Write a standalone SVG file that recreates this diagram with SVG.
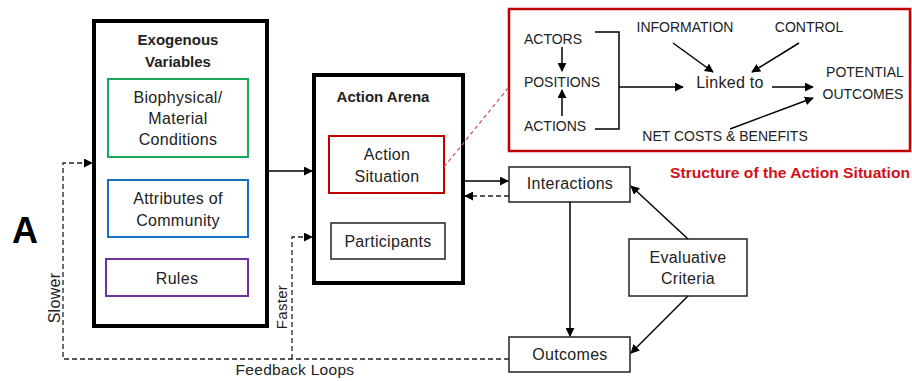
<svg xmlns="http://www.w3.org/2000/svg" width="912" height="381" viewBox="0 0 912 381">
<defs>
<marker id="ah" viewBox="0 0 10 10" refX="9" refY="5" markerWidth="9" markerHeight="9" markerUnits="userSpaceOnUse" orient="auto">
<path d="M0,0 L10,5 L0,10 z" fill="#000"/>
</marker>
</defs>
<style>
text{font-family:"Liberation Sans",Arial,sans-serif;font-size:16px;letter-spacing:0.3px;fill:#222;text-anchor:middle;dominant-baseline:central}
.b{font-weight:bold;font-size:15px;letter-spacing:0}
.big{stroke:#000;stroke-width:4;fill:#fff}
.box{stroke:#222;stroke-width:1.5;fill:#fff}
.ln{stroke:#000;stroke-width:1.5;fill:none}
.ds{stroke:#222;stroke-width:1.3;fill:none;stroke-dasharray:5,3}
.cap{font-size:14px;letter-spacing:0}
</style>
<rect width="912" height="381" fill="#fff"/>
<text x="25" y="230" style="font-size:36px;font-weight:bold;fill:#000;letter-spacing:0">A</text>

<g id="exogenous">
<rect class="big" x="94" y="21" width="173" height="305"/>
<text class="b" x="178" y="39">Exogenous</text>
<text class="b" x="178" y="61">Variables</text>
</g>
<g id="biophysical">
<rect x="108" y="79" width="140" height="78" fill="#fff" stroke="#1aa85a" stroke-width="2"/>
<text x="178" y="97">Biophysical/</text>
<text x="178" y="118">Material</text>
<text x="178" y="139">Conditions</text>
</g>
<g id="attributes">
<rect x="108" y="180" width="140" height="57" fill="#fff" stroke="#1a70c0" stroke-width="2"/>
<text x="178" y="198">Attributes of</text>
<text x="178" y="220">Community</text>
</g>
<g id="rules">
<rect x="106" y="259" width="142" height="37" fill="#fff" stroke="#7030a0" stroke-width="2"/>
<text x="177" y="278">Rules</text>
</g>

<g id="action-arena">
<rect class="big" x="314" y="75" width="149" height="208"/>
<text class="b" x="383" y="96">Action Arena</text>
</g>
<g id="action-situation">
<rect x="329" y="136" width="115" height="57" fill="#fff" stroke="#c00000" stroke-width="2"/>
<text x="387" y="154">Action</text>
<text x="387" y="176">Situation</text>
</g>
<g id="participants">
<rect class="box" x="331" y="223" width="114" height="36"/>
<text x="388" y="241">Participants</text>
</g>

<g id="interactions">
<rect class="box" x="509" y="167" width="121" height="35"/>
<text x="570" y="183">Interactions</text>
</g>
<g id="outcomes">
<rect class="box" x="509" y="337" width="121" height="35"/>
<text x="570" y="354">Outcomes</text>
</g>
<g id="evaluative">
<rect class="box" x="629" y="239" width="118" height="57"/>
<text x="688" y="257">Evaluative</text>
<text x="688" y="278">Criteria</text>
</g>

<g id="structure">
<rect x="509" y="9" width="401" height="142" fill="#fff" stroke="#c00000" stroke-width="2.5"/>
<text class="cap" x="553" y="39">ACTORS</text>
<text class="cap" x="562" y="82">POSITIONS</text>
<text class="cap" x="555" y="126">ACTIONS</text>
<text class="cap" x="685" y="27">INFORMATION</text>
<text class="cap" x="809" y="27">CONTROL</text>
<text x="730" y="82">Linked to</text>
<text class="cap" x="865" y="72">POTENTIAL</text>
<text class="cap" x="863" y="94">OUTCOMES</text>
<text class="cap" x="725" y="136">NET COSTS &amp; BENEFITS</text>
<path class="ln" d="M562,47 V71" marker-end="url(#ah)"/>
<path class="ln" d="M562,116 V90" marker-end="url(#ah)"/>
<path class="ln" d="M595,32 H619 V129 H595"/>
<path class="ln" d="M619,87 H683" marker-end="url(#ah)"/>
<path class="ln" d="M673,43 L713,72" marker-end="url(#ah)"/>
<path class="ln" d="M799,43 L752,72" marker-end="url(#ah)"/>
<path class="ln" d="M772,87 H813" marker-end="url(#ah)"/>
<path class="ln" d="M730,129 L813,98" marker-end="url(#ah)"/>
</g>
<text class="b" x="790" y="172" textLength="240" lengthAdjust="spacingAndGlyphs" style="fill:#d0101a">Structure of the Action Situation</text>

<g id="connectors">
<path d="M444,167 L509,87" fill="none" stroke="#d05060" stroke-width="1.2" stroke-dasharray="4,3"/>
<path class="ln" d="M267,171 H312" marker-end="url(#ah)"/>
<path class="ln" d="M463,181 H508" marker-end="url(#ah)"/>
<path class="ds" d="M509,196 H465" marker-end="url(#ah)"/>
<path class="ln" d="M570,202 V336" marker-end="url(#ah)"/>
<path class="ln" d="M688,239 L631,186" marker-end="url(#ah)"/>
<path class="ln" d="M688,296 L631,353" marker-end="url(#ah)"/>
<path class="ds" d="M509,359 H63 V163 H92" marker-end="url(#ah)"/>
<path class="ds" d="M292,359 V237 H312" marker-end="url(#ah)"/>
</g>
<text x="54" y="298" transform="rotate(-90 54 298)">Slower</text>
<text x="281" y="307" transform="rotate(-90 281 307)" style="font-size:15px">Faster</text>
<text x="295" y="369" style="font-size:15.5px">Feedback Loops</text>
</svg>
